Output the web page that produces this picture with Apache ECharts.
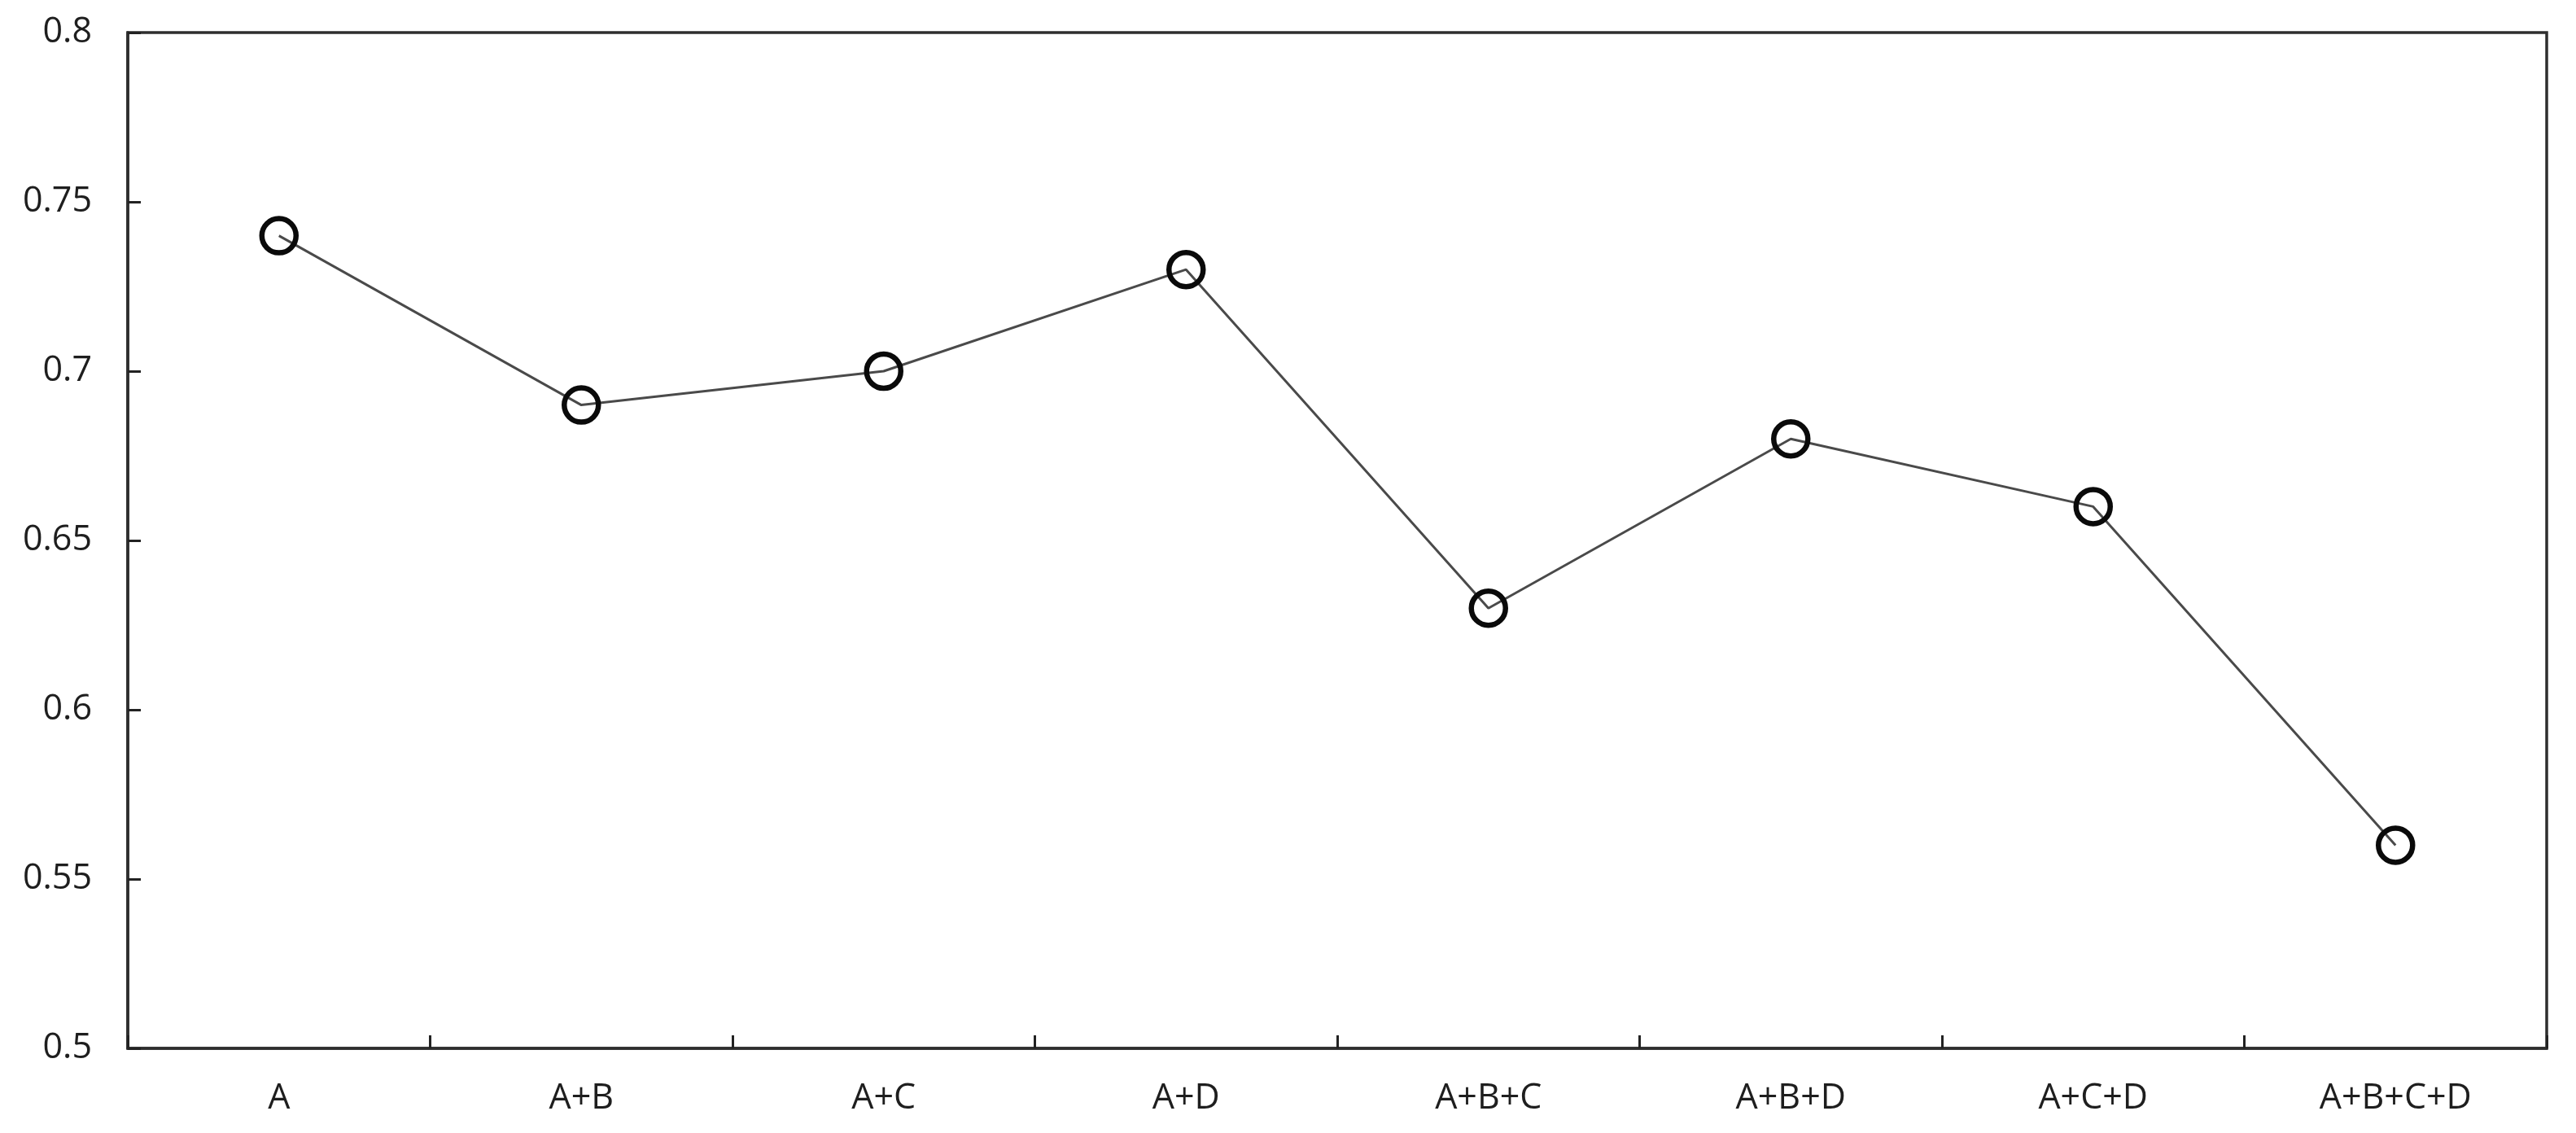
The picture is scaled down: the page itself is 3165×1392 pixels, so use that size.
<!DOCTYPE html>
<html>
<head>
<meta charset="utf-8">
<script src="https://cdn.jsdelivr.net/npm/echarts@6/dist/echarts.min.js"></script>
<style>
html,body{margin:0;padding:0;background:#fff;}
#c{width:3165px;height:1392px;}
</style>
</head>
<body>
<div id="c"></div>
<script>
const categories = ['A', 'A+B', 'A+C', 'A+D', 'A+B+C', 'A+B+D', 'A+C+D', 'A+B+C+D'];
const values = [0.74, 0.69, 0.70, 0.73, 0.63, 0.68, 0.66, 0.56];
const yTicks = [0.5, 0.8, 0.05];

const chart = echarts.init(document.getElementById('c'));
const font = '"Open Sans", "Noto Sans", sans-serif';
chart.setOption({
  backgroundColor: '#ffffff',
  animation: false,
  grid: {
    left: 157, right: 36, top: 40, bottom: 104,
    show: true, borderColor: '#2e2e2e', borderWidth: 3.5, backgroundColor: 'transparent'
  },
  xAxis: {
    type: 'category',
    data: categories,
    boundaryGap: true,
    axisLine: { show: true, lineStyle: { color: '#2e2e2e', width: 3.5 } },
    axisTick: { show: true, inside: true, length: 16, alignWithLabel: false, lineStyle: { color: '#222', width: 3 } },
    axisLabel: { fontFamily: font, fontSize: 43, color: '#1e1e1e', margin: 40 },
    splitLine: { show: false }
  },
  yAxis: {
    type: 'value',
    min: yTicks[0], max: yTicks[1], interval: yTicks[2],
    axisLine: { show: true, lineStyle: { color: '#2e2e2e', width: 3.5 } },
    axisTick: { show: true, inside: true, length: 16, lineStyle: { color: '#222', width: 3 } },
    axisLabel: {
      fontFamily: font, fontSize: 43, color: '#1e1e1e', margin: 44,
      formatter: v => String(parseFloat(v.toFixed(2)))
    },
    splitLine: { show: false }
  },
  series: [{
    type: 'line',
    data: values,
    symbol: 'circle',
    symbolSize: 42,
    lineStyle: { color: '#4a4a4a', width: 3 },
    itemStyle: { color: 'rgba(0,0,0,0)', borderColor: '#0a0a0a', borderWidth: 6.5 },
    z: 3
  }]
});
</script>
</body>
</html>
